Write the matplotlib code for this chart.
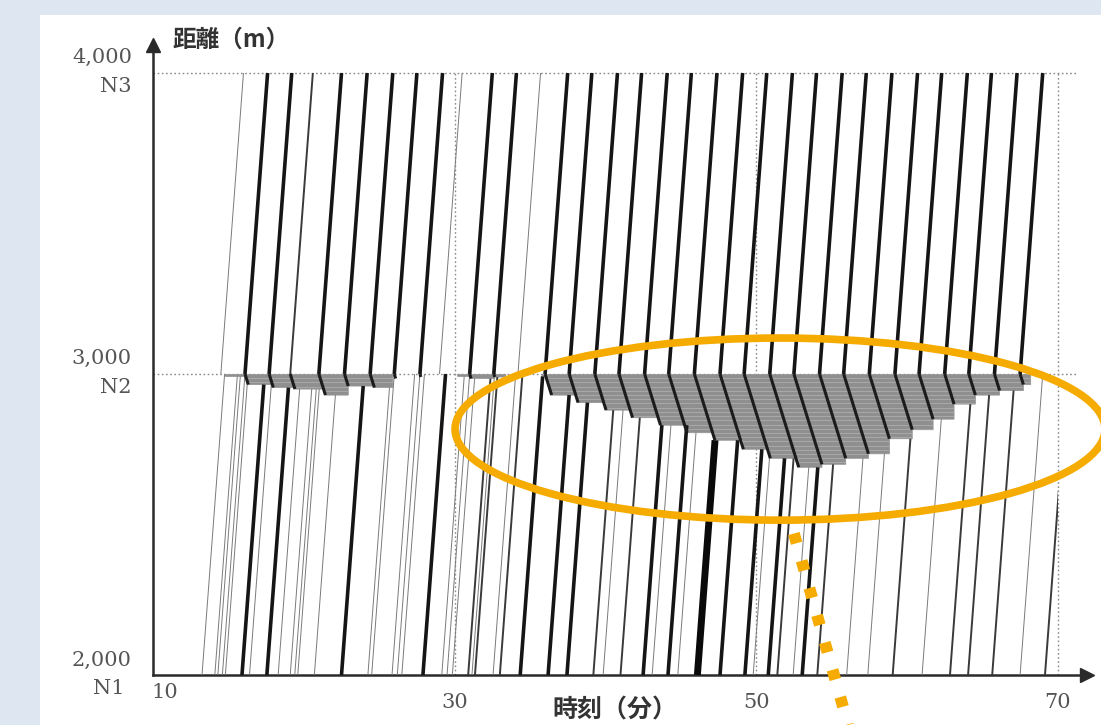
import numpy as np
import matplotlib
matplotlib.use('Agg')
import matplotlib.pyplot as plt
from matplotlib.patches import Ellipse, Polygon, Rectangle

# ---------------- data ----------------
# trajectories between N2 (3,000 m) and N3 (4,000 m): time [min] at N3
n3_times = [16.0, 17.6, 19.2, 20.6, 22.5, 24.2, 25.9, 27.5, 29.2, 30.5, 32.5, 34.1, 35.7,
            37.5, 39.1, 40.8, 42.4, 44.1, 45.7, 47.4, 49.1, 50.7, 52.4, 54.0, 55.7,
            57.3, 59.0, 60.7, 62.3, 64.0, 65.6, 67.3, 69.0]
n3_weight = ['t', 'k', 'k', 'm', 'k', 'k', 'k', 'k', 'k', 't', 'k', 'k', 't',
             'k', 'k', 'k', 'k', 'k', 'k', 'k', 'k', 'k', 'k', 'k', 'k',
             'k', 'k', 'k', 'k', 'k', 'k', 'k', 'k']
# depth [m] of the queue (below N2) reached by each trajectory's wave line
queue_depth = [0, 35, 45, 50, 70, 40, 45, 15, 10, 0, 15, 10, 0,
               70, 95, 120, 145, 170, 195, 220, 250, 280, 310, 300, 280,
               265, 215, 185, 150, 100, 70, 55, 35]
# extent [min] of the gray queue zones just below N2
queue_from = [14.8, 30.2, 35.8]
queue_to = [25.9, 33.4, 68.2]

# trajectories between N1 (2,000 m) and N2: time [min] at N1
n1_times = [13.25, 14.1, 14.3, 14.6, 14.8, 15.9, 16.4, 17.55, 18.3, 19.1, 19.4, 19.6,
            20.7, 22.5, 24.25, 24.5, 25.85, 26.2, 26.5, 27.9, 29.15, 29.5, 29.85,
            30.9, 31.15, 31.35, 32.55, 33.0, 34.35, 36.2, 37.45, 39.2, 39.85,
            41.0, 42.5, 43.1, 44.15, 44.8, 46.1, 47.6, 49.25, 49.8, 50.8,
            51.4, 52.45, 53.05, 54.05, 56.0, 57.4, 59.05, 61.0, 62.85, 64.05, 65.65,
            67.5, 69.15]
n1_weight = ['t', 't', 't', 't', 't', 'k', 't', 'k', 't', 't', 't', 't',
             't', 'k', 't', 't', 't', 't', 't', 'k', 't', 't', 't',
             'm', 't', 'm', 't', 'm', 'k', 'k', 'k', 'm', 't',
             'm', 'k', 't', 'k', 't', 'x', 'k', 'k', 't', 'k',
             'm', 't', 'k', 'm', 't', 't', 'm', 't', 'm', 'm', 'm',
             't', 'm']

travel_per_km = 1.5      # min per 1,000 m
wave_shift = 0.0062      # min per m (backward wave in the queue)

y_ticks = [2000, 3000, 4000]
y_labels = ['2,000', '3,000', '4,000']
node_labels = ['N1', 'N2', 'N3']
x_ticks = [10, 30, 50, 70]

# ---------------- styles ----------------
styles = {
    't': dict(color='#7a7a7a', lw=0.7),
    'm': dict(color='#3a3a3a', lw=1.4),
    'k': dict(color='#151515', lw=2.6),
    'x': dict(color='#0a0a0a', lw=5.0),
}
SERIF = 'DejaVu Serif'
CJK = ['Noto Sans CJK JP', 'DejaVu Sans']
ORANGE = '#F5AB00'
TXT = '#555555'

fig = plt.figure(figsize=(11.01, 7.25), dpi=100)
fig.patch.set_facecolor('#DDE6F1')
fig.add_artist(Rectangle((40 / 1101, 0), 1.0, (725 - 15) / 725, transform=fig.transFigure,
                         facecolor='white', edgecolor='none', zorder=-5))

ax = fig.add_axes([153 / 1101, 50 / 725, 934 / 1101, 630 / 725])
ax.patch.set_alpha(0)
XMAX = 10 + 934 / 15.08
YMAX = 2000 + 630 / 0.301
ax.set_xlim(10, XMAX)
ax.set_ylim(2000, YMAX)
for s in ['top', 'right']:
    ax.spines[s].set_visible(False)
for s in ['left', 'bottom']:
    ax.spines[s].set_linewidth(1.8)
    ax.spines[s].set_color('#2a2a2a')
ax.set_xticks([])
ax.set_yticks([])
ax.plot([10], [YMAX], marker='^', color='#2a2a2a', markersize=10, clip_on=False, zorder=20)
ax.plot([XMAX], [2000], marker='>', color='#2a2a2a', markersize=10, clip_on=False, zorder=20)

clip_rect = Rectangle((10, 2000), 60, 2000, transform=ax.transData, facecolor='none', edgecolor='none')
ax.add_patch(clip_rect)

# dotted reference lines
for yv in [3000, 4000]:
    ax.plot([10, 71.3], [yv, yv], color='#8a8a8a', lw=1.0, ls=(0, (1.2, 1.8)), zorder=1)
for xv in [30, 50, 70]:
    ax.plot([xv, xv], [2000, 4000], color='#8a8a8a', lw=1.0, ls=(0, (1.2, 1.8)), zorder=1)

n3 = np.array(n3_times)
t3 = n3 - travel_per_km
depth = np.array(queue_depth, dtype=float)
bt = t3 + depth * wave_shift
by = 3000 - depth

# queue groups
groups = []
for qf, qt in zip(queue_from, queue_to):
    idx = [i for i in range(len(n3)) if depth[i] > 0 and qf - 0.5 <= t3[i] <= qt]
    groups.append((qf, qt, idx))


def bottom_depth(t):
    for qf, qt, idx in groups:
        if qf <= t <= qt and idx:
            if t < bt[idx[0]]:
                return 8.0
            d = 8.0
            for i in idx:
                if bt[i] <= t:
                    d = depth[i]
            return d
    return 0.0


# gray queue zones
for qf, qt, idx in groups:
    if not idx:
        continue
    verts = [(qf, 2998), (qt, 2998), (qt, by[idx[-1]])]
    for k in range(len(idx) - 1, 0, -1):
        i, j = idx[k], idx[k - 1]
        verts.append((bt[i], by[i]))
        verts.append((bt[i], by[j]))
    verts.append((bt[idx[0]], by[idx[0]]))
    verts.append((t3[idx[0]], 2992))
    verts.append((qf, 2992))
    poly = Polygon(verts, closed=True, facecolor='#8f8f8f', edgecolor='#969696', lw=0.6, zorder=2)
    ax.add_patch(poly)
    for yh in np.arange(2650, 3000, 14):
        ln, = ax.plot([qf, qt], [yh, yh], color='#a9a9a9', lw=0.7, zorder=2.1)
        ln.set_clip_path(poly)

# upper trajectories and wave lines in the queue
for i in range(len(n3)):
    st = styles[n3_weight[i]]
    ax.plot([t3[i], n3[i]], [3000, 4000], solid_capstyle='butt', zorder=4, **st)
    if depth[i] > 0:
        ax.plot([t3[i], bt[i]], [3000, by[i]], color='#1c1c1c', lw=2.2, zorder=4,
                solid_capstyle='butt')

# lower trajectories
for t1, w in zip(n1_times, n1_weight):
    st = styles[w]
    ta = t1 + travel_per_km
    d = bottom_depth(ta)
    te = t1 + (1000 - d) / 1000 * travel_per_km
    d = bottom_depth(te)
    te = t1 + (1000 - d) / 1000 * travel_per_km
    ln, = ax.plot([t1, te], [2000, 3000 - d], zorder=3, solid_capstyle='butt', **st)
    ln.set_clip_path(clip_rect)

# orange highlight
ax.add_patch(Ellipse((51.58, 2817), 43.1, 605, fill=False, edgecolor=ORANGE, lw=5.5,
                     clip_on=False, zorder=10))
ax.plot([52.5, 56.1], [2470, 1834], color=ORANGE, lw=8.5, ls=(0, (0.85, 1.55)),
        solid_capstyle='butt', dash_capstyle='butt', clip_on=False, zorder=10)

# labels
for yv, lab, node in zip(y_ticks, y_labels, node_labels):
    up = 15 if yv == 2000 else 16
    ax.annotate(lab, xy=(10, yv), xycoords='data', xytext=(-21, up),
                textcoords='offset pixels', ha='right', va='center', fontsize=15,
                family=SERIF, color=TXT)
    nx = -28 if yv == 2000 else -21
    ax.annotate(node, xy=(10, yv), xycoords='data', xytext=(nx, -13),
                textcoords='offset pixels', ha='right', va='center', fontsize=15,
                family=SERIF, color=TXT)

for xv in x_ticks:
    off = (12, -17) if xv == 10 else (0, -28)
    ax.annotate(str(xv), xy=(xv, 2000), xycoords='data', xytext=off, textcoords='offset pixels',
                ha='center', va='center', fontsize=15, family=SERIF, color=TXT)

ax.annotate('距離（m）', xy=(10, YMAX), xycoords='data', xytext=(20, 5), textcoords='offset pixels',
            ha='left', va='center', fontsize=17, family=CJK, color='#333333', fontweight='bold')
ax.annotate('時刻（分）', xy=(40.6, 2000), xycoords='data', xytext=(0, -36), textcoords='offset pixels',
            ha='center', va='center', fontsize=18, family=CJK, color='#333333', fontweight='bold',
            annotation_clip=False)

fig.savefig('out.png', dpi=100, facecolor=fig.get_facecolor())
